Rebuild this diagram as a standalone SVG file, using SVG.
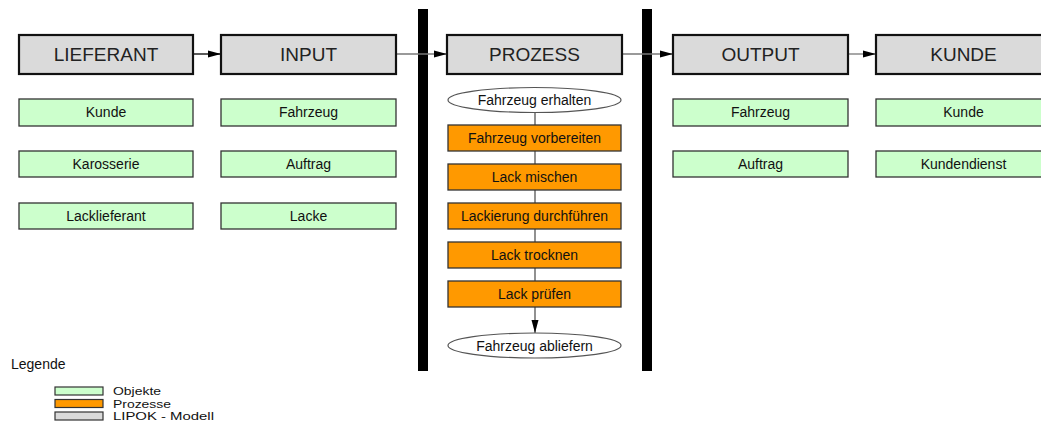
<svg xmlns="http://www.w3.org/2000/svg" width="1041" height="421" viewBox="0 0 1041 421">
  <style>
    text { font-family: "Liberation Sans", Arial, sans-serif; fill: #111; text-anchor: middle; }
    .head rect { fill: #dadada; stroke: #111; stroke-width: 2.2; }
    .head text { font-size: 19px; fill: #222; }
    .obj rect { fill: #ccffcc; stroke: #333; stroke-width: 1.3; }
    .proc rect { fill: #ff9900; stroke: #333; stroke-width: 1.3; }
    .ev ellipse { fill: #fff; stroke: #555; stroke-width: 1.2; }
    .obj text, .proc text, .ev text { font-size: 14px; }
    .bar { fill: #000; }
    .flow { stroke: #000; stroke-width: 1.3; fill: none; }
    .flow.grey { stroke: #777; }
    .seq { stroke: #555; stroke-width: 1.3; fill: none; }
    .legend text { text-anchor: start; font-size: 14px; }
    .legend .key { font-size: 11.5px; }
    .legend rect { stroke: #333; stroke-width: 1.2; }
  </style>
  <defs>
    <marker id="arrow" markerWidth="14" markerHeight="8" refX="13" refY="4" orient="auto" markerUnits="userSpaceOnUse">
      <path d="M0,0.5 L13,4 L0,7.5 Z" fill="#000"/>
    </marker>
  </defs>

  <rect width="1041" height="421" fill="#fff"/>

  <!-- separators around the process column -->
  <rect class="bar" x="418" y="9" width="10" height="362"/>
  <rect class="bar" x="642" y="9" width="10" height="362"/>

  <!-- connectors -->
  <g id="connectors">
    <line class="flow" x1="194" y1="54" x2="221" y2="54" marker-end="url(#arrow)"/>
    <line class="flow grey" x1="397" y1="54" x2="447" y2="54" marker-end="url(#arrow)"/>
    <line class="flow grey" x1="623" y1="54" x2="673" y2="54" marker-end="url(#arrow)"/>
    <line class="flow grey" x1="849" y1="54" x2="876" y2="54" marker-end="url(#arrow)"/>
    <line class="seq" x1="535" y1="112.5" x2="535" y2="125"/>
    <line class="seq" x1="535" y1="151" x2="535" y2="164"/>
    <line class="seq" x1="535" y1="190" x2="535" y2="203"/>
    <line class="seq" x1="535" y1="229" x2="535" y2="242"/>
    <line class="seq" x1="535" y1="268" x2="535" y2="281"/>
    <line class="seq" x1="535" y1="307" x2="535" y2="333" marker-end="url(#arrow)"/>
  </g>

  <!-- LIPOK headers -->
  <g id="lieferant" class="head"><rect x="19" y="35" width="174" height="39"/><text x="106" y="61">LIEFERANT</text></g>
  <g id="input" class="head"><rect x="221" y="35" width="175" height="39"/><text x="308.5" y="61">INPUT</text></g>
  <g id="prozess" class="head"><rect x="447" y="35" width="175" height="39"/><text x="534.5" y="61">PROZESS</text></g>
  <g id="output" class="head"><rect x="673" y="35" width="175" height="39"/><text x="760.5" y="61">OUTPUT</text></g>
  <g id="kunde" class="head"><rect x="876" y="35" width="175" height="39"/><text x="963.5" y="61">KUNDE</text></g>

  <!-- objects: Lieferant -->
  <g id="l-kunde" class="obj"><rect x="19" y="99" width="174" height="27"/><text x="106" y="117">Kunde</text></g>
  <g id="l-karosserie" class="obj"><rect x="19" y="151" width="174" height="26"/><text x="106" y="169">Karosserie</text></g>
  <g id="l-lacklieferant" class="obj"><rect x="19" y="203" width="174" height="26"/><text x="106" y="221">Lacklieferant</text></g>

  <!-- objects: Input -->
  <g id="i-fahrzeug" class="obj"><rect x="221" y="99" width="175" height="27"/><text x="308.5" y="117">Fahrzeug</text></g>
  <g id="i-auftrag" class="obj"><rect x="221" y="151" width="175" height="26"/><text x="308.5" y="169">Auftrag</text></g>
  <g id="i-lacke" class="obj"><rect x="221" y="203" width="175" height="26"/><text x="308.5" y="221">Lacke</text></g>

  <!-- objects: Output -->
  <g id="o-fahrzeug" class="obj"><rect x="673" y="99" width="175" height="27"/><text x="760.5" y="117">Fahrzeug</text></g>
  <g id="o-auftrag" class="obj"><rect x="673" y="151" width="175" height="26"/><text x="760.5" y="169">Auftrag</text></g>

  <!-- objects: Kunde -->
  <g id="k-kunde" class="obj"><rect x="876" y="99" width="175" height="27"/><text x="963.5" y="117">Kunde</text></g>
  <g id="k-kundendienst" class="obj"><rect x="876" y="151" width="175" height="26"/><text x="963.5" y="169">Kundendienst</text></g>

  <!-- process chain -->
  <g id="ev-erhalten" class="ev"><ellipse cx="534.5" cy="100" rx="86.5" ry="12.5"/><text x="534.5" y="105">Fahrzeug erhalten</text></g>
  <g id="p-vorbereiten" class="proc"><rect x="448" y="125" width="173" height="26"/><text x="534.5" y="143">Fahrzeug vorbereiten</text></g>
  <g id="p-mischen" class="proc"><rect x="448" y="164" width="173" height="26"/><text x="534.5" y="182">Lack mischen</text></g>
  <g id="p-lackierung" class="proc"><rect x="448" y="203" width="173" height="26"/><text x="534.5" y="221">Lackierung durchführen</text></g>
  <g id="p-trocknen" class="proc"><rect x="448" y="242" width="173" height="26"/><text x="534.5" y="260">Lack trocknen</text></g>
  <g id="p-pruefen" class="proc"><rect x="448" y="281" width="173" height="26"/><text x="534.5" y="299">Lack prüfen</text></g>
  <g id="ev-abliefern" class="ev"><ellipse cx="534.5" cy="345.5" rx="86.5" ry="12.5"/><text x="534.5" y="350.5">Fahrzeug abliefern</text></g>

  <!-- legend -->
  <g id="legend" class="legend">
    <text x="11" y="369">Legende</text>
    <rect x="55" y="387" width="48" height="8" fill="#ccffcc"/>
    <text class="key" x="113" y="395" textLength="48" lengthAdjust="spacingAndGlyphs">Objekte</text>
    <rect x="55" y="399.5" width="48" height="8" fill="#ff9900"/>
    <text class="key" x="113" y="407.5" textLength="58" lengthAdjust="spacingAndGlyphs">Prozesse</text>
    <rect x="55" y="412" width="48" height="8" fill="#dadada"/>
    <text class="key" x="113" y="420" textLength="101" lengthAdjust="spacingAndGlyphs">LIPOK - Modell</text>
  </g>
</svg>
